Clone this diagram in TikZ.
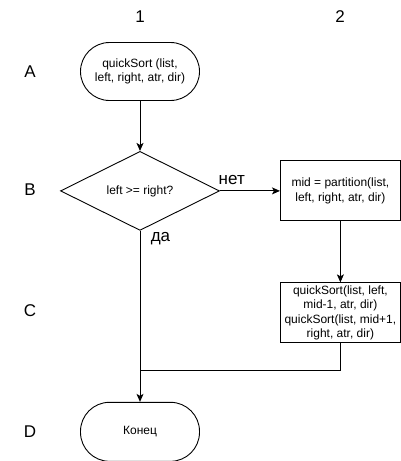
\documentclass[tikz,border=0pt]{standalone}
\usepackage{fontspec}
\setmainfont{Liberation Sans}
\usetikzlibrary{arrows.meta,positioning,shapes.geometric}

\begin{document}
\begin{tikzpicture}[x=1pt, y=-1pt, >={Stealth[length=8pt, width=7pt, inset=2pt]},
  line width=0.9pt, font=\fontsize{12}{14.5}\selectfont, node distance=50pt,
  term/.style={rectangle, draw, rounded corners=29pt, minimum width=119pt,
               minimum height=58pt, align=center},
  proc/.style={rectangle, draw, minimum width=120pt, minimum height=60pt,
               align=center, inner sep=1pt},
  cond/.style={diamond, draw, aspect=2, minimum width=159pt,
               minimum height=79pt, inner sep=0pt},
  lbl/.style={font=\fontsize{17}{20}\selectfont}]
  \useasboundingbox (0,0) rectangle (401,461);
  \node[lbl] (col1) at (140,17) {1};
  \node[lbl] (col2) at (340,17) {2};
  \node[lbl] (rowA) at (30,72) {A};
  \node[lbl] (rowB) at (30,190) {B};
  \node[lbl] (rowC) at (30,311) {C};
  \node[lbl] (rowD) at (30,432) {D};
  \node[term] (start) at (140,71.5) {quickSort (list,\\left, right, atr, dir)};
  \node[cond, below=50pt of start] (check) {left >= right?};
  \node[proc, right=60pt of check] (part) {mid = partition(list,\\left, right, atr, dir)};
  \node[proc, below=61pt of part] (sort) {quickSort(list, left,\\mid-1, atr, dir)\\
     quickSort(list, mid+1,\\right, atr, dir)};
  \node[term, minimum height=59pt, below=171pt of check] (stop) {Конец};
  \coordinate (join) at (check.south |- 0,370);
  \draw[->] (start) -- (check);
  \draw[->] (check) -- (part)
        node[lbl, pos=0, anchor=base west, xshift=-5pt, yshift=6pt] {нет};
  \draw[->] (part) -- (sort);
  \draw[->] (check) -- (stop)
        node[lbl, pos=0, anchor=base west, xshift=7pt, yshift=-11pt] {да};
  \draw (sort.south) |- (join);
\end{tikzpicture}
\end{document}
